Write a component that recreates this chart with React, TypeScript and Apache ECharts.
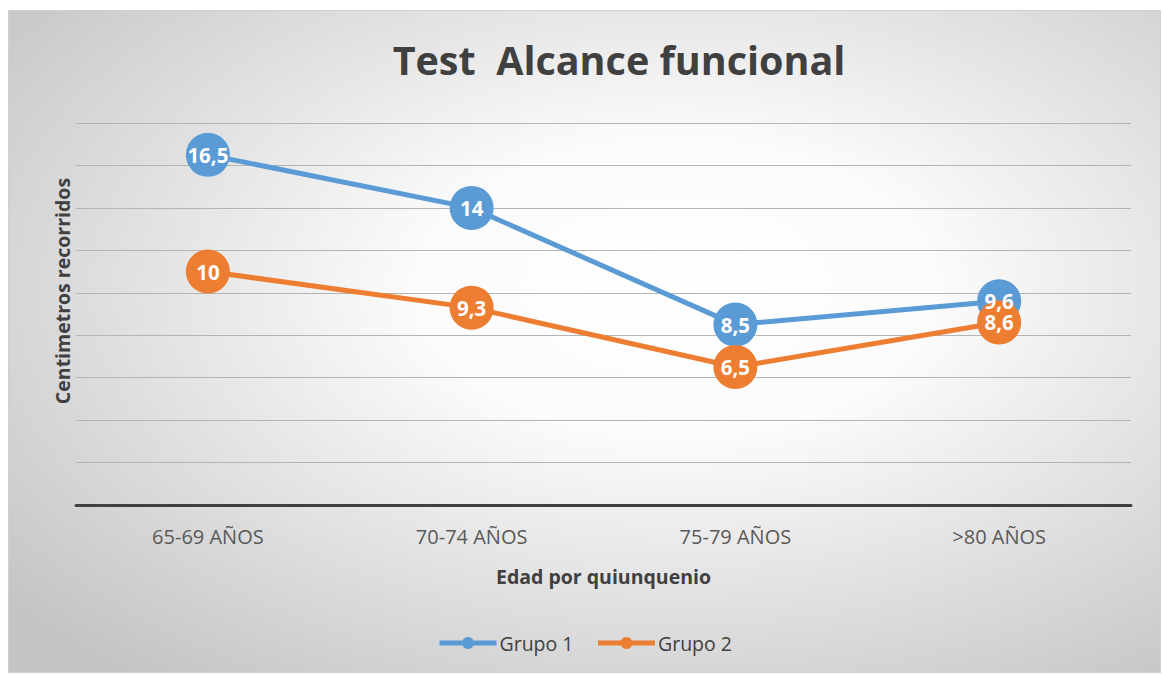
import React, { useEffect, useRef } from "react";
import * as echarts from "echarts";

const categories = ["65-69 AÑOS", "70-74 AÑOS", "75-79 AÑOS", ">80 AÑOS"];
const grupo1 = [16.5, 14, 8.5, 9.6];
const grupo2 = [11, 9.3, 6.5, 8.6];
const grupo1Labels = ["16,5", "14", "8,5", "9,6"];
const grupo2Labels = ["10", "9,3", "6,5", "8,6"];
const seriesNames = ["Grupo 1", "Grupo 2"];

const FONT = "'Open Sans', sans-serif";

export default function App() {
  const ref = useRef<HTMLDivElement>(null);
  useEffect(() => {
    if (!ref.current) return;
    const chart = echarts.init(ref.current, null, { renderer: "svg" });
    const mkSeries = (name: string, data: number[], labels: string[], color: string) => ({
      name,
      type: "line",
      data,
      symbol: "circle",
      symbolSize: 44,
      itemStyle: { color },
      lineStyle: { color, width: 5 },
      label: {
        show: true,
        position: "inside",
        color: "#ffffff",
        fontFamily: FONT,
        fontWeight: "bold",
        fontSize: 20.5,
        formatter: (p: any) => labels[p.dataIndex],
      },
    });
    chart.setOption({
      animation: false,
      backgroundColor: {
        type: "radial",
        x: 0.58,
        y: 0.42,
        r: 0.75,
        colorStops: [
          { offset: 0, color: "#ffffff" },
          { offset: 0.3, color: "#fbfbfb" },
          { offset: 1, color: "#c4c4c4" },
        ],
      },
      title: {
        text: "Test  Alcance funcional",
        left: 605,
        top: 24,
        textAlign: "center",
        textStyle: { fontFamily: FONT, fontWeight: "bold", fontSize: 39.5, color: "#404040" },
      },
      legend: {
        bottom: 14,
        left: "center",
        itemWidth: 57,
        itemHeight: 15,
        itemGap: 22,
        lineStyle: { width: 5 },
        textStyle: { fontFamily: FONT, fontSize: 19.5, color: "#404040", padding: [0, 0, 0, -2] },
        data: seriesNames,
      },
      grid: { left: 67, right: 29, top: 112, bottom: 167 },
      xAxis: {
        type: "category",
        data: categories,
        boundaryGap: true,
        name: "Edad por quiunquenio",
        nameLocation: "middle",
        nameGap: 61,
        nameTextStyle: { fontFamily: FONT, fontWeight: "bold", fontSize: 19.5, color: "#404040" },
        axisLine: { lineStyle: { color: "#404040", width: 3 } },
        axisTick: { show: false },
        axisLabel: { fontFamily: FONT, fontSize: 20, color: "#595959", margin: 21 },
      },
      yAxis: {
        type: "value",
        min: 0,
        max: 18,
        interval: 2,
        axisLabel: { show: false },
        axisLine: { show: false },
        axisTick: { show: false },
        splitLine: { lineStyle: { color: "#b4b4b4", width: 1 } },
      },
      graphic: [
        {
          type: "text",
          x: 53,
          y: 280,
          rotation: Math.PI / 2,
          style: {
            text: "Centimetros recorridos",
            fontFamily: FONT,
            fontWeight: "bold",
            fontSize: 19.5,
            fill: "#404040",
            align: "center",
            verticalAlign: "middle",
          },
        },
      ],
      series: [
        mkSeries(seriesNames[0], grupo1, grupo1Labels, "#5B9BD5"),
        mkSeries(seriesNames[1], grupo2, grupo2Labels, "#ED7D31"),
      ],
    });
    return () => chart.dispose();
  }, []);
  return (
    <div
      ref={ref}
      style={{ position: "absolute", left: 8, top: 10, width: 1153, height: 663, border: "1px solid #d0d0d0", boxSizing: "border-box" }}
    />
  );
}
